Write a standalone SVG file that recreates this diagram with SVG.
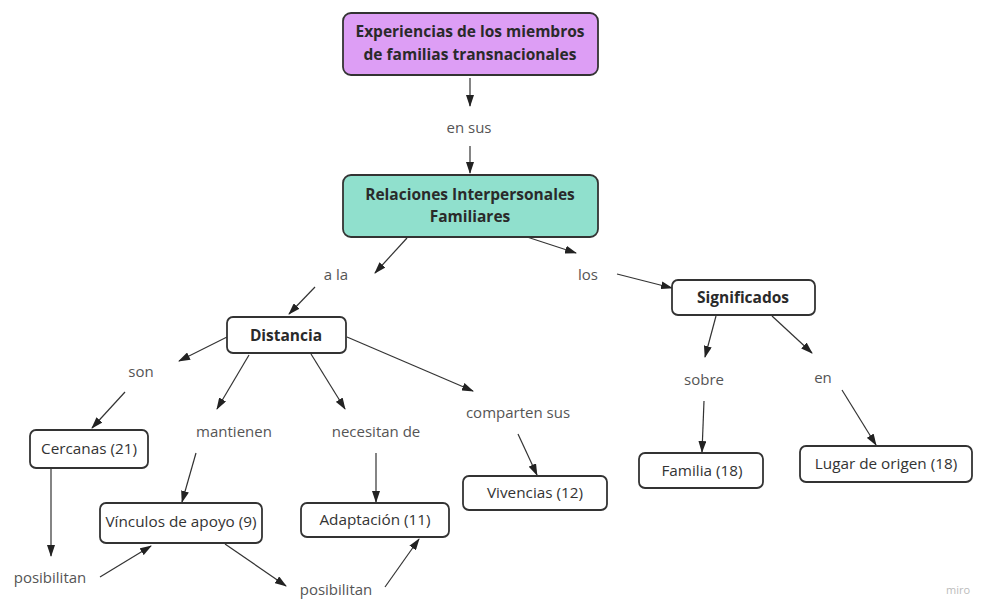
<svg xmlns="http://www.w3.org/2000/svg" width="984" height="600" viewBox="0 0 984 600">
<defs>
<marker id="ah" markerWidth="12" markerHeight="8" refX="11" refY="4" orient="auto" markerUnits="userSpaceOnUse">
<path d="M0,0 L12,4 L0,8 Z" fill="#222"/>
</marker>
<style>
.box{fill:#fff;stroke:#333;stroke-width:1.8}
.t{font-family:"Open Sans","Liberation Sans",sans-serif;font-size:15.3px;fill:#333;text-anchor:middle}
.b{font-weight:bold;fill:#2a2a2a;font-size:15.5px}
.lbl{font-family:"Open Sans","Liberation Sans",sans-serif;font-size:15px;fill:#555;text-anchor:middle}
.c line{stroke:#333;stroke-width:1.2;marker-end:url(#ah)}
</style>
</defs>
<rect width="984" height="600" fill="#fff"/>
<g class="c" id="connectors">
<line x1="470" y1="78" x2="470" y2="106"/>
<line x1="470" y1="146" x2="470" y2="173"/>
<line x1="407" y1="238" x2="375" y2="273"/>
<line x1="315" y1="287" x2="289" y2="314"/>
<line x1="527" y1="237" x2="576" y2="253"/>
<line x1="617" y1="274" x2="672" y2="288"/>
<line x1="227" y1="337" x2="179" y2="361"/>
<line x1="125" y1="392" x2="92" y2="428"/>
<line x1="51" y1="469" x2="51" y2="556"/>
<line x1="100" y1="577" x2="151" y2="546"/>
<line x1="249" y1="355" x2="217" y2="409"/>
<line x1="196" y1="453" x2="182" y2="502"/>
<line x1="311" y1="354" x2="345" y2="409"/>
<line x1="376" y1="453" x2="376" y2="502"/>
<line x1="225" y1="544" x2="286" y2="586"/>
<line x1="385" y1="587" x2="419" y2="539"/>
<line x1="347" y1="337" x2="473" y2="391"/>
<line x1="518" y1="434" x2="537" y2="475"/>
<line x1="716" y1="316" x2="705" y2="357"/>
<line x1="704" y1="401" x2="702" y2="452"/>
<line x1="772" y1="316" x2="812" y2="353"/>
<line x1="842" y1="390" x2="876" y2="445"/>
</g>
<g id="experiencias">
<rect x="343" y="13" width="255" height="62" rx="8" fill="#dd9ef5" stroke="#333" stroke-width="1.8"/>
<text class="t b" x="470" y="37">Experiencias de los miembros</text>
<text class="t b" x="470" y="60">de familias transnacionales</text>
</g>
<g id="relaciones">
<rect x="343" y="175" width="255" height="62" rx="8" fill="#90e0cd" stroke="#333" stroke-width="1.8"/>
<text class="t b" x="470" y="200">Relaciones Interpersonales</text>
<text class="t b" x="470" y="222">Familiares</text>
</g>
<g id="distancia">
<rect class="box" x="227" y="317" width="119" height="36" rx="6"/>
<text class="t b" x="286" y="341">Distancia</text>
</g>
<g id="significados">
<rect class="box" x="672" y="280" width="143" height="35" rx="6"/>
<text class="t b" x="743" y="303">Significados</text>
</g>
<g id="cercanas">
<rect class="box" x="30" y="430" width="118" height="38" rx="6"/>
<text class="t" x="89" y="454">Cercanas (21)</text>
</g>
<g id="vinculos">
<rect class="box" x="100" y="503" width="162" height="40" rx="6"/>
<text class="t" x="181" y="527">Vínculos de apoyo (9)</text>
</g>
<g id="adaptacion">
<rect class="box" x="301" y="503" width="148" height="34" rx="6"/>
<text class="t" x="375" y="525">Adaptación (11)</text>
</g>
<g id="vivencias">
<rect class="box" x="463" y="476" width="144" height="34" rx="6"/>
<text class="t" x="535" y="498">Vivencias (12)</text>
</g>
<g id="familia">
<rect class="box" x="639" y="453" width="124" height="35" rx="6"/>
<text class="t" x="702" y="476">Familia (18)</text>
</g>
<g id="lugar">
<rect class="box" x="800" y="446" width="172" height="36" rx="6"/>
<text class="t" x="886" y="469">Lugar de origen (18)</text>
</g>
<g id="labels">
<text class="lbl" x="469" y="133">en sus</text>
<text class="lbl" x="336" y="280">a la</text>
<text class="lbl" x="588" y="280">los</text>
<text class="lbl" x="141" y="377">son</text>
<text class="lbl" x="234" y="437">mantienen</text>
<text class="lbl" x="376" y="437">necesitan de</text>
<text class="lbl" x="518" y="418">comparten sus</text>
<text class="lbl" x="704" y="385">sobre</text>
<text class="lbl" x="823" y="383">en</text>
<text class="lbl" x="50" y="583">posibilitan</text>
<text class="lbl" x="336" y="595">posibilitan</text>
<text x="958" y="594" font-family="'Open Sans','Liberation Sans',sans-serif" font-size="11" fill="#bbb" text-anchor="middle">miro</text>
</g>
</svg>
